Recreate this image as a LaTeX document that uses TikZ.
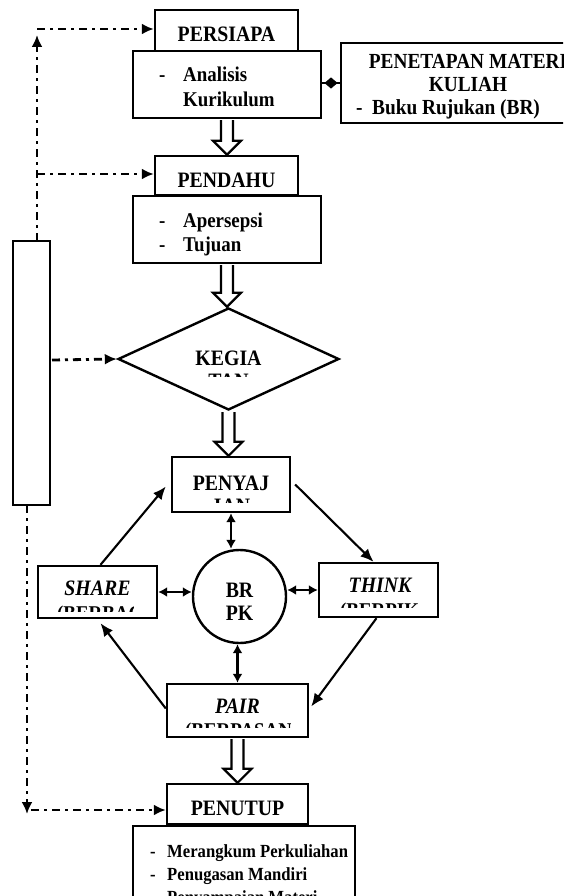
\documentclass[tikz,border=0pt]{standalone}
\usepackage{fontspec}
\setmainfont{Liberation Serif}[FakeStretch=0.9]
\usetikzlibrary{shapes.geometric,arrows.meta,calc}
\newcommand\hollowarr[2]{%
  \draw[hollow] let \p1=(#1.south), \p2=(#2.north) in
    (\x1-6pt,\y1-1pt) -- (\x1-6pt,\y2+14pt) -- (\x1-14pt,\y2+14pt) -- (\x1,\y2)
    -- (\x1+14pt,\y2+14pt) -- (\x1+6pt,\y2+14pt) -- (\x1+6pt,\y1-1pt);}
\begin{document}
\begin{tikzpicture}[x=1pt,y=-1pt,
  box/.style={draw,line width=2.4pt,inner sep=0pt},
  hollow/.style={draw,line width=2.2pt,line join=miter},
  arr/.style={line width=2.1pt,-{Latex[length=13pt,width=11pt]}},
  darr/.style={line width=2.1pt,{Latex[length=9pt,width=10pt]}-{Latex[length=9pt,width=10pt]}},
  dd/.style={line width=2.8pt,dash pattern=on 8pt off 5pt on 3pt off 5pt},
  ddarr/.style={dd,-{Latex[length=12pt,width=11pt]}},
  htxt/.style={inner sep=0pt,anchor=base,font=\bfseries\fontsize{22}{26}\selectfont},
  itxt/.style={inner sep=0pt,anchor=base,font=\bfseries\itshape\fontsize{22}{26}\selectfont},
  ctxt/.style={inner sep=0pt,anchor=base west,font=\bfseries\fontsize{21}{25}\selectfont},
  ptxt/.style={inner sep=0pt,font=\bfseries\fontsize{21.5}{25}\selectfont},
  btxt/.style={inner sep=0pt,anchor=base west,font=\bfseries\fontsize{18.5}{23}\selectfont},
  ftxt/.style={inner sep=0pt,anchor=base west,font=\bfseries\fontsize{21}{25}\selectfont}
]
\useasboundingbox (0,0) rectangle (563,896);
\clip (0,0) rectangle (563,896);

% ---- boxes ----
\node[box,minimum width=143pt,minimum height=41pt] (persiapa) at (226.5,30.5) {};
\node[box,minimum width=188pt,minimum height=67pt] (analisis) at (227,84.5) {};
\node[box,minimum width=269pt,minimum height=80pt] (penetapan) at (475.5,83) {};
\node[box,minimum width=143pt,minimum height=39pt] (pendahu) at (226.5,175.5) {};
\node[box,minimum width=188pt,minimum height=67pt] (apersepsi) at (227,229.5) {};
\node[box,minimum width=37pt,minimum height=264pt] (leftbar) at (31.5,373) {};
\node[box,diamond,aspect=2.17,minimum width=221pt,minimum height=102pt] (kegiatan) at (228.5,359) {};
\node[box,minimum width=118pt,minimum height=55pt] (penyaj) at (231,484.5) {};
\node[box,minimum width=119pt,minimum height=52pt] (share) at (97.5,592) {};
\node[box,minimum width=119pt,minimum height=54pt] (think) at (378.5,590) {};
\node[box,circle,minimum size=93pt] (brpk) at (239.5,596.5) {};
\node[box,minimum width=141pt,minimum height=53pt] (pair) at (237.5,710.5) {};
\node[box,minimum width=141pt,minimum height=40pt] (penutup) at (237.5,804) {};
\node[box,minimum width=222pt,minimum height=124pt] (penutupisi) at (244,888) {};

% ---- texts ----
\node[htxt] (tpersiapa) at (226.5,42) {PERSIAPA};
\node[ctxt] (tana1) at (159,82) {\makebox[24pt][l]{-}Analisis};
\node[ctxt] (tana2) at (183,107) {Kurikulum};
\node[ptxt,anchor=base] (tpen1) at (468,69) {PENETAPAN MATERI};
\node[ptxt,anchor=base] (tpen2) at (468,92) {KULIAH};
\node[ptxt,anchor=base west] (tpen3) at (356,115) {\makebox[16pt][l]{-}Buku Rujukan (BR)};
\node[htxt] (tpendahu) at (226.5,187) {PENDAHU};
\node[ctxt] (taper1) at (159,227) {\makebox[24pt][l]{-}Apersepsi};
\node[ctxt] (taper2) at (159,251) {\makebox[24pt][l]{-}Tujuan};
\node[htxt] (tkegia) at (228.5,365) {KEGIA};
\node[htxt] (tpenyaj) at (231,490) {PENYAJ};
\node[itxt] (tshare) at (97.5,595) {SHARE};
\node[itxt] (tthink) at (380,592) {THINK};
\node[htxt] (tbr) at (239.5,597) {BR};
\node[htxt] (tpk) at (239.5,620) {PK};
\node[itxt] (tpair) at (237.5,713) {PAIR};
\node[htxt] (tpenutup) at (237.5,815) {PENUTUP};
\node[btxt] (tb1) at (150,857) {\makebox[17pt][l]{-}Merangkum Perkuliahan};
\node[btxt] (tb2) at (150,880) {\makebox[17pt][l]{-}Penugasan Mandiri};
\node[btxt] (tb3) at (150,903) {\makebox[17pt][l]{-}Penyampaian Materi};

% ---- clipped second lines ----
\begin{scope}
  \clip (195,373) rectangle (262,376.5);
  \node[htxt] (fkegia) at (228.5,388) {TAN};
\end{scope}
\begin{scope}
  \clip (190,498) rectangle (275,502.5);
  \node[htxt] (fpenyaj) at (232,513) {IAN};
\end{scope}
\begin{scope}
  \clip (50,603) rectangle (133,611);
  \node[ftxt] (fshare) at (57,620) {(BERBAGI)};
\end{scope}
\begin{scope}
  \clip (330,601) rectangle (418,607.5);
  \node[ftxt] (fthink) at (340,617.5) {(BERPIKIR)};
\end{scope}
\begin{scope}
  \clip (180,720) rectangle (290,727);
  \node[ftxt] (fpair) at (185,737) {(BERPASANGAN)};
\end{scope}

% ---- hollow arrows ----
\hollowarr{analisis}{pendahu}
\hollowarr{apersepsi}{kegiatan}
\hollowarr{kegiatan}{penyaj}
\hollowarr{pair}{penutup}

% ---- diamond connector ----
\draw[line width=2.1pt] (analisis.east |- penetapan.west) -- node[diamond,fill,inner sep=0pt,minimum width=14pt,minimum height=12pt] (dmark) {} (penetapan.west);

% ---- cycle arrows ----
\draw[arr] ([xshift=3pt]share.north) -- ([xshift=-5pt,yshift=-2pt]penyaj.west);
\draw[arr] ([xshift=4pt]penyaj.east) -- ([xshift=-5pt]think.north);
\draw[arr] ([xshift=-2pt]think.south) -- ([xshift=2pt,yshift=4pt]pair.east);
\draw[arr] ([yshift=2pt]pair.west) -- ([xshift=3pt,yshift=-4pt]share.south);

% ---- double arrows ----
\draw[darr] (penyaj.south) -- (penyaj.south |- brpk.north);
\draw[darr] (pair.north) -- (pair.north |- brpk.south);
\draw[darr] (share.east) -- (share.east -| brpk.west);
\draw[darr] (think.west) -- (think.west -| brpk.east);

% ---- dash-dot feedback lines ----
\coordinate (topcorner) at (37,29);
\coordinate (topstart) at (37,241);
\coordinate (toptip) at (37,35);
\coordinate (midcorner) at (37,174);
\coordinate (kstart) at (52,360);
\coordinate (botstart) at (27,505);
\coordinate (bottip) at (27,814);
\coordinate (botcorner) at (31,810);
\draw[ddarr] (topstart) -- (toptip);
\draw[ddarr] (topcorner) -- (topcorner -| persiapa.west);
\draw[ddarr] (midcorner) -- (midcorner -| pendahu.west);
\draw[ddarr] (kstart) -- (kegiatan.west);
\draw[ddarr] (botstart) -- (bottip);
\draw[ddarr] (botcorner) -- (botcorner -| penutup.west);
\end{tikzpicture}
\end{document}
